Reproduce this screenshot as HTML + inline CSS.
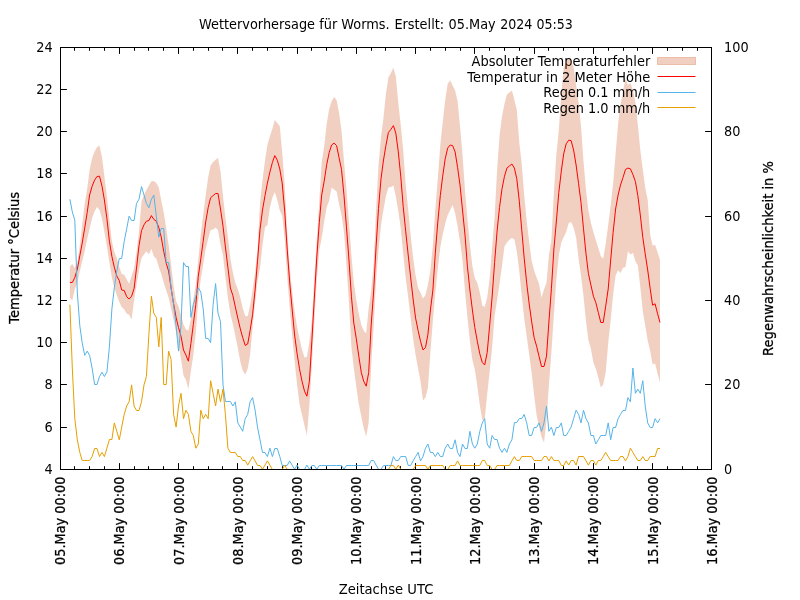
<!DOCTYPE html>
<html lang="de"><head><meta charset="utf-8"><title>Wettervorhersage für Worms</title>
<style>html,body{margin:0;padding:0;background:#fff;overflow:hidden}svg{display:block}text{font-family:"DejaVu Sans", "Liberation Sans", sans-serif;font-size:12.9px;fill:#000}</style></head><body>
<svg width="800" height="600" viewBox="0 0 800 600">
<defs><clipPath id="cp"><rect x="60" y="47" width="652" height="423"/></clipPath></defs>
<rect width="800" height="600" fill="#fff"/>
<text transform="translate(0,29) scale(1,1.05)"><tspan x="199.04">Wettervorhersage</tspan> <tspan x="319.2">für</tspan> <tspan x="341.33">Worms.</tspan> <tspan x="394.4">Erstellt:</tspan> <tspan x="448.55">05.May</tspan> <tspan x="500.2" textLength="32.2" lengthAdjust="spacingAndGlyphs">2024</tspan> <tspan x="536.5" textLength="36.4" lengthAdjust="spacingAndGlyphs">05:53</tspan></text>
<path d="M60.5,469.5h6.4M60.5,427.5h6.4M60.5,384.5h6.4M60.5,342.5h6.4M60.5,300.5h6.4M60.5,258.5h6.4M60.5,216.5h6.4M60.5,173.5h6.4M60.5,131.5h6.4M60.5,89.5h6.4M60.5,47.5h6.4M711.5,469.5h-6.4M711.5,384.5h-6.4M711.5,300.5h-6.4M711.5,216.5h-6.4M711.5,131.5h-6.4M711.5,47.5h-6.4M60.5,469.5v-6.4M60.5,47.5v6.4M74.5,469.5v-3.3M74.5,47.5v3.3M89.5,469.5v-3.3M89.5,47.5v3.3M104.5,469.5v-3.3M104.5,47.5v3.3M119.5,469.5v-6.4M119.5,47.5v6.4M134.5,469.5v-3.3M134.5,47.5v3.3M148.5,469.5v-3.3M148.5,47.5v3.3M163.5,469.5v-3.3M163.5,47.5v3.3M178.5,469.5v-6.4M178.5,47.5v6.4M193.5,469.5v-3.3M193.5,47.5v3.3M208.5,469.5v-3.3M208.5,47.5v3.3M222.5,469.5v-3.3M222.5,47.5v3.3M237.5,469.5v-6.4M237.5,47.5v6.4M252.5,469.5v-3.3M252.5,47.5v3.3M267.5,469.5v-3.3M267.5,47.5v3.3M282.5,469.5v-3.3M282.5,47.5v3.3M297.5,469.5v-6.4M297.5,47.5v6.4M311.5,469.5v-3.3M311.5,47.5v3.3M326.5,469.5v-3.3M326.5,47.5v3.3M341.5,469.5v-3.3M341.5,47.5v3.3M356.5,469.5v-6.4M356.5,47.5v6.4M371.5,469.5v-3.3M371.5,47.5v3.3M385.5,469.5v-3.3M385.5,47.5v3.3M400.5,469.5v-3.3M400.5,47.5v3.3M415.5,469.5v-6.4M415.5,47.5v6.4M430.5,469.5v-3.3M430.5,47.5v3.3M445.5,469.5v-3.3M445.5,47.5v3.3M460.5,469.5v-3.3M460.5,47.5v3.3M474.5,469.5v-6.4M474.5,47.5v6.4M489.5,469.5v-3.3M489.5,47.5v3.3M504.5,469.5v-3.3M504.5,47.5v3.3M519.5,469.5v-3.3M519.5,47.5v3.3M534.5,469.5v-6.4M534.5,47.5v6.4M548.5,469.5v-3.3M548.5,47.5v3.3M563.5,469.5v-3.3M563.5,47.5v3.3M578.5,469.5v-3.3M578.5,47.5v3.3M593.5,469.5v-6.4M593.5,47.5v6.4M608.5,469.5v-3.3M608.5,47.5v3.3M623.5,469.5v-3.3M623.5,47.5v3.3M637.5,469.5v-3.3M637.5,47.5v3.3M652.5,469.5v-6.4M652.5,47.5v6.4M667.5,469.5v-3.3M667.5,47.5v3.3M682.5,469.5v-3.3M682.5,47.5v3.3M697.5,469.5v-3.3M697.5,47.5v3.3M711.5,469.5v-6.4M711.5,47.5v6.4" fill="none" stroke="#000" stroke-width="1"/>
<text transform="translate(650.3,66.2) scale(1.01,1.05)" text-anchor="end">Absoluter Temperaturfehler</text>
<g clip-path="url(#cp)">
<path d="M69.9,266.2L72.3,264.0L74.8,268.0L77.3,262.0L79.8,246.2L82.2,225.0L84.7,203.8L87.2,188.8L89.6,170.0L92.1,158.1L94.6,151.5L97.0,147.2L99.5,145.6L102.0,156.9L104.4,176.2L106.9,196.2L109.4,220.0L111.9,241.2L114.3,251.9L116.8,258.1L119.3,266.9L121.7,274.0L124.2,274.4L126.7,279.4L129.1,283.8L131.6,276.2L134.1,268.0L136.5,252.5L139.0,231.2L141.5,201.2L144.0,195.0L146.4,190.0L148.9,185.6L151.4,181.2L153.8,181.0L156.3,183.1L158.8,187.5L161.2,200.0L163.7,212.5L166.2,228.5L168.6,244.8L171.1,264.7L173.6,285.8L176.1,301.2L178.5,306.2L181.0,315.0L183.5,324.4L185.9,329.4L188.4,330.6L190.9,318.8L193.3,299.4L195.8,285.0L198.3,260.0L200.8,233.8L203.2,215.0L205.7,195.0L208.2,176.9L210.6,165.6L213.1,161.9L215.6,159.8L218.0,158.1L220.5,171.2L223.0,196.2L225.4,217.5L227.9,236.9L230.4,258.8L232.9,272.5L235.3,283.1L237.8,289.0L240.3,297.5L242.7,308.1L245.2,315.9L247.7,316.2L250.1,305.6L252.6,290.0L255.1,272.0L257.5,250.0L260.0,203.0L262.5,180.0L265.0,160.6L267.4,145.0L269.9,136.2L272.4,128.8L274.8,120.0L277.3,123.1L279.8,126.2L282.2,152.5L284.7,185.0L287.2,232.0L289.6,266.2L292.1,291.2L294.6,311.2L297.1,327.0L299.5,338.8L302.0,349.4L304.5,357.5L306.9,356.9L309.4,341.2L311.9,320.0L314.3,278.8L316.8,238.8L319.3,201.2L321.7,162.0L324.2,146.2L326.7,123.8L329.2,108.8L331.6,101.2L334.1,96.9L336.6,100.0L339.0,112.5L341.5,130.6L344.0,161.2L346.4,188.4L348.9,221.2L351.4,255.0L353.8,282.5L356.3,300.0L358.8,313.8L361.3,325.0L363.7,330.5L366.2,333.4L368.7,307.5L371.1,291.2L373.6,265.0L376.1,210.0L378.5,165.0L381.0,137.5L383.5,117.5L385.9,93.8L388.4,77.5L390.9,73.1L393.4,67.8L395.8,76.2L398.3,103.1L400.8,125.6L403.2,150.0L405.7,185.0L408.2,210.0L410.6,234.4L413.1,257.5L415.6,275.6L418.1,288.0L420.5,292.5L423.0,298.5L425.5,295.0L427.9,285.0L430.4,270.0L432.9,245.0L435.3,209.5L437.8,178.8L440.3,145.0L442.7,122.5L445.2,100.0L447.7,83.8L450.2,80.2L452.6,85.6L455.1,90.6L457.6,101.2L460.0,126.0L462.5,154.5L465.0,190.6L467.4,218.8L469.9,245.0L472.4,266.2L474.8,278.1L477.3,283.1L479.8,292.5L482.3,305.5L484.7,307.0L487.2,297.5L489.7,278.1L492.1,247.5L494.6,217.0L497.1,170.0L499.5,136.2L502.0,116.2L504.5,103.8L506.9,94.4L509.4,92.5L511.9,90.6L514.4,100.0L516.8,110.0L519.3,142.5L521.8,165.0L524.2,195.0L526.7,221.2L529.2,242.0L531.6,260.6L534.1,270.6L536.6,277.5L539.0,283.8L541.5,297.5L544.0,289.4L546.5,282.5L548.9,255.0L551.4,240.0L553.9,192.5L556.3,155.0L558.8,130.0L561.3,93.8L563.7,68.0L566.2,61.0L568.7,58.5L571.1,61.0L573.6,67.0L576.1,85.0L578.6,102.5L581.0,126.5L583.5,161.2L586.0,190.0L588.4,210.5L590.9,223.1L593.4,231.9L595.8,240.0L598.3,248.1L600.8,256.2L603.2,258.8L605.7,243.8L608.2,225.0L610.7,205.0L613.1,183.8L615.6,153.8L618.1,123.8L620.5,105.0L623.0,91.2L625.5,78.5L627.9,85.0L630.4,83.1L632.9,90.0L635.4,102.5L637.8,124.5L640.3,150.0L642.8,169.4L645.2,187.5L647.7,200.0L650.2,235.0L652.6,245.6L655.1,245.0L657.6,252.5L660.0,260.0L660.0,382.5L657.6,373.8L655.1,363.5L652.6,364.4L650.2,351.0L647.7,340.5L645.2,325.6L642.8,311.2L640.3,287.0L637.8,265.2L635.4,261.2L632.9,252.8L630.4,254.6L627.9,251.2L625.5,266.9L623.0,267.8L620.5,273.1L618.1,270.2L615.6,275.5L613.1,295.0L610.7,320.0L608.2,343.0L605.7,372.5L603.2,384.4L600.8,387.5L598.3,377.5L595.8,368.8L593.4,362.5L590.9,348.8L588.4,340.0L586.0,321.2L583.5,296.2L581.0,275.5L578.6,258.8L576.1,237.5L573.6,227.5L571.1,221.9L568.7,223.1L566.2,231.9L563.7,236.9L561.3,242.5L558.8,255.0L556.3,280.0L553.9,314.4L551.4,352.0L548.9,385.0L546.5,420.0L544.0,442.5L541.5,437.0L539.0,426.2L536.6,415.0L534.1,395.0L531.6,372.5L529.2,354.4L526.7,336.2L524.2,318.5L521.8,296.2L519.3,271.2L516.8,251.2L514.4,239.4L511.9,238.1L509.4,239.8L506.9,242.5L504.5,246.2L502.0,266.2L499.5,283.8L497.1,300.0L494.6,316.0L492.1,347.5L489.7,371.2L487.2,394.0L484.7,419.0L482.3,420.0L479.8,405.0L477.3,386.0L474.8,369.4L472.4,360.0L469.9,341.2L467.4,317.0L465.0,291.2L462.5,260.0L460.0,241.5L457.6,226.2L455.1,213.0L452.6,205.0L450.2,210.0L447.7,215.0L445.2,223.8L442.7,234.4L440.3,247.5L437.8,268.8L435.3,293.0L432.9,320.0L430.4,352.0L427.9,388.0L425.5,397.5L423.0,400.5L420.5,381.2L418.1,368.8L415.6,355.0L413.1,338.8L410.6,317.5L408.2,297.5L405.7,278.1L403.2,253.8L400.8,228.8L398.3,211.0L395.8,196.2L393.4,185.6L390.9,186.9L388.4,187.5L385.9,196.2L383.5,209.4L381.0,225.0L378.5,250.0L376.1,280.0L373.6,327.5L371.1,367.0L368.7,422.5L366.2,436.5L363.7,428.0L361.3,416.2L358.8,404.0L356.3,387.0L353.8,368.0L351.4,347.0L348.9,302.0L346.4,264.0L344.0,232.5L341.5,215.0L339.0,203.8L336.6,191.5L334.1,189.4L331.6,187.5L329.2,200.6L326.7,206.9L324.2,221.2L321.7,238.1L319.3,250.0L316.8,280.0L314.3,321.0L311.9,363.8L309.4,405.0L306.9,435.6L304.5,425.6L302.0,415.0L299.5,404.0L297.1,385.0L294.6,361.0L292.1,335.0L289.6,306.0L287.2,276.0L284.7,240.0L282.2,215.6L279.8,210.6L277.3,200.0L274.8,192.2L272.4,197.5L269.9,207.5L267.4,225.0L265.0,227.2L262.5,245.0L260.0,268.0L257.5,281.0L255.1,302.8L252.6,327.0L250.1,355.0L247.7,368.8L245.2,374.4L242.7,370.5L240.3,361.5L237.8,348.0L235.3,335.6L232.9,324.3L230.4,314.0L227.9,298.0L225.4,277.0L223.0,255.6L220.5,244.4L218.0,230.2L215.6,227.5L213.1,229.4L210.6,230.0L208.2,238.8L205.7,248.8L203.2,264.4L200.8,278.8L198.3,300.0L195.8,332.5L193.3,355.0L190.9,371.2L188.4,389.0L185.9,379.8L183.5,375.6L181.0,359.0L178.5,345.0L176.1,332.5L173.6,320.0L171.1,308.8L168.6,297.5L166.2,290.5L163.7,282.5L161.2,273.8L158.8,266.9L156.3,258.8L153.8,256.2L151.4,248.8L148.9,254.4L146.4,251.2L144.0,254.4L141.5,258.1L139.0,270.0L136.5,285.0L134.1,300.0L131.6,319.4L129.1,314.8L126.7,313.4L124.2,309.4L121.7,306.9L119.3,302.1L116.8,295.2L114.3,287.4L111.9,278.0L109.4,262.5L106.9,246.2L104.4,231.9L102.0,218.8L99.5,210.0L97.0,207.1L94.6,211.2L92.1,218.1L89.6,228.8L87.2,238.8L84.7,251.2L82.2,261.2L79.8,271.2L77.3,283.0L74.8,289.0L72.3,300.4L69.9,297.5Z" fill="#c74307" fill-opacity="0.25" stroke="none"/>
<rect x="657.5" y="57.5" width="38" height="7" fill="#c74307" fill-opacity="0.25" stroke="#c74307" stroke-opacity="0.25" stroke-width="1"/>
<text transform="translate(650.3,81.7) scale(1.01,1.05)" text-anchor="end">Temperatur in 2 Meter Höhe</text>
<path d="M69.9,282.5L72.3,282.5L74.8,277.6L77.3,269.3L79.8,255.8L82.2,243.1L84.7,228.1L87.2,212.5L89.6,195.0L92.1,186.3L94.6,180.1L97.0,176.5L99.5,176.2L102.0,186.2L104.4,200.0L106.9,218.5L109.4,241.2L111.9,256.5L114.3,267.2L116.8,276.0L119.3,280.6L121.7,290.0L124.2,290.5L126.7,296.7L129.1,299.0L131.6,296.2L134.1,288.5L136.5,268.1L139.0,245.6L141.5,230.6L144.0,224.8L146.4,221.2L148.9,220.6L151.4,215.6L153.8,219.4L156.3,221.2L158.8,227.5L161.2,236.9L163.7,251.2L166.2,263.1L168.6,271.2L171.1,288.0L173.6,303.8L176.1,317.5L178.5,327.5L181.0,336.2L183.5,350.0L185.9,355.0L188.4,361.2L190.9,343.5L193.3,324.5L195.8,304.5L198.3,276.2L200.8,258.8L203.2,241.2L205.7,222.0L208.2,207.5L210.6,197.8L213.1,195.6L215.6,193.5L218.0,193.5L220.5,209.0L223.0,226.2L225.4,246.9L227.9,267.5L230.4,288.0L232.9,295.6L235.3,306.9L237.8,318.1L240.3,328.8L242.7,337.5L245.2,345.4L247.7,344.0L250.1,330.6L252.6,314.4L255.1,290.0L257.5,261.2L260.0,229.5L262.5,210.0L265.0,195.6L267.4,183.1L269.9,172.0L272.4,162.5L274.8,155.6L277.3,160.2L279.8,169.0L282.2,183.1L284.7,211.2L287.2,249.0L289.6,281.2L292.1,308.8L294.6,335.0L297.1,353.8L299.5,368.8L302.0,381.2L304.5,391.2L306.9,396.2L309.4,381.2L311.9,340.3L314.3,298.8L316.8,257.0L319.3,222.5L321.7,195.0L324.2,181.2L326.7,164.7L329.2,152.5L331.6,145.0L334.1,143.1L336.6,145.6L339.0,157.5L341.5,169.4L344.0,195.6L346.4,226.2L348.9,259.0L351.4,296.2L353.8,323.0L356.3,338.8L358.8,356.2L361.3,372.5L363.7,381.2L366.2,386.2L368.7,372.5L371.1,326.2L373.6,292.0L376.1,246.2L378.5,208.5L381.0,178.8L383.5,160.0L385.9,145.6L388.4,132.5L390.9,129.4L393.4,125.6L395.8,133.1L398.3,151.9L400.8,176.9L403.2,206.5L405.7,231.2L408.2,255.0L410.6,276.9L413.1,299.0L415.6,318.1L418.1,330.6L420.5,341.2L423.0,350.0L425.5,347.5L427.9,334.4L430.4,310.0L432.9,290.0L435.3,253.1L437.8,222.0L440.3,195.6L442.7,176.2L445.2,158.8L447.7,148.1L450.2,145.0L452.6,145.6L455.1,151.9L457.6,167.5L460.0,185.0L462.5,210.0L465.0,235.0L467.4,266.2L469.9,290.0L472.4,310.0L474.8,327.5L477.3,341.2L479.8,353.8L482.3,362.5L484.7,365.0L487.2,352.5L489.7,325.0L492.1,297.0L494.6,262.5L497.1,231.0L499.5,207.5L502.0,188.8L504.5,176.2L506.9,168.1L509.4,166.0L511.9,164.0L514.4,168.1L516.8,178.8L519.3,201.2L521.8,230.5L524.2,258.1L526.7,283.1L529.2,304.0L531.6,321.2L534.1,337.5L536.6,346.2L539.0,356.2L541.5,366.5L544.0,366.5L546.5,356.2L548.9,322.0L551.4,288.8L553.9,249.0L556.3,222.0L558.8,192.5L561.3,171.2L563.7,153.8L566.2,143.8L568.7,140.2L571.1,140.6L573.6,150.0L576.1,165.0L578.6,183.8L581.0,202.5L583.5,228.8L586.0,253.8L588.4,273.5L590.9,285.0L593.4,296.2L595.8,302.5L598.3,312.5L600.8,322.5L603.2,322.5L605.7,306.2L608.2,289.0L610.7,260.0L613.1,232.5L615.6,209.0L618.1,195.0L620.5,185.0L623.0,177.5L625.5,169.4L627.9,168.1L630.4,168.8L632.9,174.5L635.4,181.5L637.8,195.5L640.3,215.0L642.8,237.5L645.2,253.8L647.7,270.0L650.2,288.8L652.6,305.2L655.1,303.8L657.6,313.8L660.0,322.5" fill="none" stroke="#ff0000" stroke-width="1" stroke-linejoin="miter" stroke-miterlimit="4"/>
<path d="M657.5,76.5h38" stroke="#ff0000" stroke-width="1" fill="none"/>
<text transform="translate(650.3,97.4) scale(1,1.05)" text-anchor="end">Regen 0.1 mm/h</text>
<path d="M69.9,199.2L72.3,211.9L74.8,220.3L77.3,292.1L79.8,325.8L82.2,342.7L84.7,355.4L87.2,351.1L89.6,355.4L92.1,368.0L94.6,384.5L97.0,384.5L99.5,376.5L102.0,372.2L104.4,376.5L106.9,372.2L109.4,346.9L111.9,308.9L114.3,287.8L116.8,271.0L119.3,258.5L121.7,258.5L124.2,241.4L126.7,228.8L129.1,216.1L131.6,220.5L134.1,220.5L136.5,203.4L139.0,199.2L141.5,186.6L144.0,195.0L146.4,203.4L148.9,207.7L151.4,199.2L153.8,195.0L156.3,216.1L158.8,237.2L161.2,228.5L163.7,228.5L166.2,262.5L168.6,262.5L171.1,287.8L173.6,304.7L176.1,325.8L178.5,351.1L181.0,325.8L183.5,262.5L185.9,266.5L188.4,266.5L190.9,317.4L193.3,304.7L195.8,296.3L198.3,287.8L200.8,292.1L203.2,308.9L205.7,338.5L208.2,338.5L210.6,342.7L213.1,304.7L215.6,283.6L218.0,313.2L220.5,321.6L223.0,384.9L225.4,401.5L227.9,401.5L230.4,401.5L232.9,406.0L235.3,401.8L237.8,422.9L240.3,427.1L242.7,431.3L245.2,418.7L247.7,414.4L250.1,401.8L252.6,397.6L255.1,410.2L257.5,427.1L260.0,439.8L262.5,452.5L265.0,452.5L267.4,456.6L269.9,448.2L272.4,456.6L274.8,448.5L277.3,448.5L279.8,456.6L282.2,465.5L284.7,465.5L287.2,465.5L289.6,460.9L292.1,465.1L294.6,469.3L297.1,465.1L299.5,469.5L302.0,469.5L304.5,469.5L306.9,465.1L309.4,469.3L311.9,465.5L314.3,465.5L316.8,469.3L319.3,465.5L321.7,465.5L324.2,465.5L326.7,465.5L329.2,465.5L331.6,465.5L334.1,465.5L336.6,465.5L339.0,465.5L341.5,465.5L344.0,469.3L346.4,465.5L348.9,465.5L351.4,465.5L353.8,465.5L356.3,465.5L358.8,465.5L361.3,465.5L363.7,465.5L366.2,465.5L368.7,465.5L371.1,460.5L373.6,460.5L376.1,465.1L378.5,469.5L381.0,469.5L383.5,465.5L385.9,465.5L388.4,465.5L390.9,465.5L393.4,456.6L395.8,460.5L398.3,460.5L400.8,456.5L403.2,456.5L405.7,456.5L408.2,465.5L410.6,465.5L413.1,460.9L415.6,456.6L418.1,452.4L420.5,460.9L423.0,456.6L425.5,448.2L427.9,444.0L430.4,452.5L432.9,452.5L435.3,456.6L437.8,452.4L440.3,456.5L442.7,456.5L445.2,448.2L447.7,444.0L450.2,448.5L452.6,448.5L455.1,439.8L457.6,452.4L460.0,456.6L462.5,444.0L465.0,448.5L467.4,448.5L469.9,431.3L472.4,444.0L474.8,448.2L477.3,444.0L479.8,431.3L482.3,422.9L484.7,418.7L487.2,444.0L489.7,448.2L492.1,435.5L494.6,439.5L497.1,439.5L499.5,448.2L502.0,452.4L504.5,448.2L506.9,452.4L509.4,444.0L511.9,439.8L514.4,422.5L516.8,422.5L519.3,418.5L521.8,418.5L524.2,414.4L526.7,422.9L529.2,435.5L531.6,435.5L534.1,427.5L536.6,427.5L539.0,422.9L541.5,431.3L544.0,422.9L546.5,406.0L548.9,431.3L551.4,427.1L553.9,435.5L556.3,427.5L558.8,427.5L561.3,422.9L563.7,435.5L566.2,435.5L568.7,431.3L571.1,427.1L573.6,418.7L576.1,410.2L578.6,414.4L581.0,422.9L583.5,410.2L586.0,418.7L588.4,422.9L590.9,435.5L593.4,435.5L595.8,444.0L598.3,439.8L600.8,435.5L603.2,435.5L605.7,435.5L608.2,422.9L610.7,439.8L613.1,427.5L615.6,427.5L618.1,418.7L620.5,414.4L623.0,410.5L625.5,410.5L627.9,397.6L630.4,401.8L632.9,368.0L635.4,393.3L637.8,389.1L640.3,393.3L642.8,380.7L645.2,406.0L647.7,422.9L650.2,427.5L652.6,427.5L655.1,418.7L657.6,422.9L660.0,418.7" fill="none" stroke="#56b4e9" stroke-width="1" stroke-linejoin="miter" stroke-miterlimit="4"/>
<path d="M657.5,92.5h38" stroke="#56b4e9" stroke-width="1" fill="none"/>
<text transform="translate(650.3,113) scale(1,1.05)" text-anchor="end">Regen 1.0 mm/h</text>
<path d="M69.9,304.7L72.3,368.0L74.8,418.7L77.3,439.8L79.8,452.4L82.2,460.5L84.7,460.5L87.2,460.5L89.6,460.5L92.1,456.6L94.6,448.5L97.0,448.5L99.5,456.6L102.0,452.4L104.4,456.6L106.9,448.2L109.4,439.5L111.9,439.5L114.3,422.9L116.8,431.3L119.3,439.8L121.7,427.1L124.2,414.4L126.7,406.0L129.1,401.8L131.6,384.9L134.1,406.0L136.5,410.5L139.0,410.5L141.5,401.8L144.0,384.9L146.4,376.5L148.9,334.3L151.4,296.3L153.8,313.2L156.3,317.4L158.8,346.9L161.2,317.4L163.7,384.5L166.2,384.5L168.6,351.1L171.1,359.6L173.6,414.4L176.1,427.1L178.5,406.0L181.0,393.3L183.5,418.7L185.9,410.2L188.4,414.4L190.9,431.3L193.3,435.5L195.8,448.2L198.3,444.0L200.8,410.2L203.2,418.7L205.7,414.4L208.2,418.7L210.6,380.7L213.1,393.3L215.6,406.0L218.0,389.1L220.5,401.8L223.0,389.1L225.4,414.4L227.9,448.2L230.4,452.5L232.9,452.5L235.3,452.5L237.8,456.5L240.3,456.5L242.7,460.5L245.2,460.5L247.7,465.1L250.1,460.9L252.6,456.6L255.1,460.9L257.5,465.5L260.0,465.5L262.5,469.3L265.0,465.1L267.4,460.9L269.9,465.1L272.4,469.5L274.8,469.5L277.3,469.5L279.8,469.5L282.2,469.5L284.7,465.1L287.2,469.5L289.6,469.5L292.1,469.5L294.6,469.5L297.1,469.5L299.5,469.5L302.0,469.5L304.5,469.5L306.9,469.5L309.4,469.5L311.9,469.5L314.3,469.5L316.8,469.5L319.3,469.5L321.7,469.5L324.2,469.5L326.7,469.5L329.2,469.5L331.6,469.5L334.1,469.5L336.6,469.5L339.0,469.5L341.5,469.5L344.0,469.5L346.4,469.5L348.9,469.5L351.4,469.5L353.8,469.5L356.3,469.5L358.8,469.5L361.3,469.5L363.7,469.5L366.2,469.5L368.7,469.5L371.1,469.5L373.6,469.5L376.1,469.5L378.5,469.5L381.0,469.5L383.5,469.5L385.9,469.5L388.4,469.5L390.9,465.5L393.4,465.5L395.8,469.3L398.3,465.1L400.8,469.5L403.2,469.5L405.7,469.5L408.2,469.5L410.6,469.5L413.1,469.5L415.6,465.5L418.1,465.5L420.5,465.5L423.0,465.5L425.5,465.5L427.9,469.3L430.4,465.5L432.9,465.5L435.3,465.5L437.8,465.5L440.3,465.5L442.7,465.5L445.2,469.5L447.7,469.5L450.2,465.5L452.6,465.5L455.1,465.5L457.6,460.9L460.0,465.5L462.5,465.5L465.0,465.5L467.4,465.5L469.9,465.5L472.4,465.5L474.8,465.5L477.3,465.5L479.8,465.5L482.3,460.5L484.7,460.5L487.2,465.5L489.7,465.5L492.1,469.5L494.6,469.5L497.1,465.5L499.5,465.5L502.0,465.5L504.5,465.5L506.9,465.5L509.4,465.5L511.9,460.9L514.4,456.6L516.8,460.5L519.3,460.5L521.8,456.5L524.2,456.5L526.7,456.5L529.2,456.5L531.6,456.5L534.1,460.5L536.6,460.5L539.0,460.5L541.5,460.5L544.0,456.5L546.5,456.5L548.9,460.9L551.4,456.6L553.9,460.5L556.3,460.5L558.8,460.5L561.3,465.5L563.7,465.5L566.2,460.9L568.7,465.1L571.1,460.5L573.6,460.5L576.1,465.1L578.6,456.5L581.0,456.5L583.5,456.5L586.0,460.9L588.4,465.1L590.9,460.5L593.4,460.5L595.8,465.1L598.3,460.5L600.8,460.5L603.2,456.6L605.7,452.4L608.2,456.6L610.7,460.5L613.1,460.5L615.6,460.5L618.1,460.5L620.5,456.5L623.0,456.5L625.5,460.9L627.9,456.6L630.4,448.2L632.9,452.4L635.4,456.6L637.8,460.5L640.3,460.5L642.8,456.6L645.2,460.5L647.7,460.5L650.2,456.5L652.6,456.5L655.1,456.5L657.6,448.5L660.0,448.5" fill="none" stroke="#e69f00" stroke-width="1" stroke-linejoin="miter" stroke-miterlimit="4"/>
<path d="M657.5,107.5h38" stroke="#e69f00" stroke-width="1" fill="none"/>
</g>
<rect x="60.5" y="47.5" width="651.0" height="422.0" fill="none" stroke="#000" stroke-width="1"/>
<text transform="translate(52.6,474) scale(1,1.05)" text-anchor="end">4</text>
<text transform="translate(52.6,432) scale(1,1.05)" text-anchor="end">6</text>
<text transform="translate(52.6,389) scale(1,1.05)" text-anchor="end">8</text>
<text transform="translate(52.6,347) scale(1,1.05)" text-anchor="end">10</text>
<text transform="translate(52.6,305) scale(1,1.05)" text-anchor="end">12</text>
<text transform="translate(52.6,263) scale(1,1.05)" text-anchor="end">14</text>
<text transform="translate(52.6,221) scale(1,1.05)" text-anchor="end">16</text>
<text transform="translate(52.6,178) scale(1,1.05)" text-anchor="end">18</text>
<text transform="translate(52.6,136) scale(1,1.05)" text-anchor="end">20</text>
<text transform="translate(52.6,94) scale(1,1.05)" text-anchor="end">22</text>
<text transform="translate(52.6,52) scale(1,1.05)" text-anchor="end">24</text>
<text transform="translate(724,474) scale(1,1.05)">0</text>
<text transform="translate(724,389) scale(1,1.05)">20</text>
<text transform="translate(724,305) scale(1,1.05)">40</text>
<text transform="translate(724,221) scale(1,1.05)">60</text>
<text transform="translate(724,136) scale(1,1.05)">80</text>
<text transform="translate(724,52) scale(1,1.05)">100</text>
<text transform="translate(65,476.5) rotate(-90) scale(1,1.05)" text-anchor="end" stroke="#000" stroke-width="0.25">05.May 00:00</text>
<text transform="translate(124,476.5) rotate(-90) scale(1,1.05)" text-anchor="end" stroke="#000" stroke-width="0.25">06.May 00:00</text>
<text transform="translate(184,476.5) rotate(-90) scale(1,1.05)" text-anchor="end" stroke="#000" stroke-width="0.25">07.May 00:00</text>
<text transform="translate(243,476.5) rotate(-90) scale(1,1.05)" text-anchor="end" stroke="#000" stroke-width="0.25">08.May 00:00</text>
<text transform="translate(302,476.5) rotate(-90) scale(1,1.05)" text-anchor="end" stroke="#000" stroke-width="0.25">09.May 00:00</text>
<text transform="translate(361,476.5) rotate(-90) scale(1,1.05)" text-anchor="end" stroke="#000" stroke-width="0.25">10.May 00:00</text>
<text transform="translate(421,476.5) rotate(-90) scale(1,1.05)" text-anchor="end" stroke="#000" stroke-width="0.25">11.May 00:00</text>
<text transform="translate(480,476.5) rotate(-90) scale(1,1.05)" text-anchor="end" stroke="#000" stroke-width="0.25">12.May 00:00</text>
<text transform="translate(539,476.5) rotate(-90) scale(1,1.05)" text-anchor="end" stroke="#000" stroke-width="0.25">13.May 00:00</text>
<text transform="translate(598,476.5) rotate(-90) scale(1,1.05)" text-anchor="end" stroke="#000" stroke-width="0.25">14.May 00:00</text>
<text transform="translate(658,476.5) rotate(-90) scale(1,1.05)" text-anchor="end" stroke="#000" stroke-width="0.25">15.May 00:00</text>
<text transform="translate(717,476.5) rotate(-90) scale(1,1.05)" text-anchor="end" stroke="#000" stroke-width="0.25">16.May 00:00</text>
<text transform="translate(386,594) scale(1.02,1.05)" text-anchor="middle">Zeitachse UTC</text>
<text transform="translate(19,257.9) rotate(-90) scale(1.013,1.05)" text-anchor="middle" stroke="#000" stroke-width="0.25">Temperatur °Celsius</text>
<text transform="translate(773,258.5) rotate(-90) scale(1.013,1.05)" text-anchor="middle" stroke="#000" stroke-width="0.25">Regenwahrscheinlichkeit in %</text>
</svg></body></html>
